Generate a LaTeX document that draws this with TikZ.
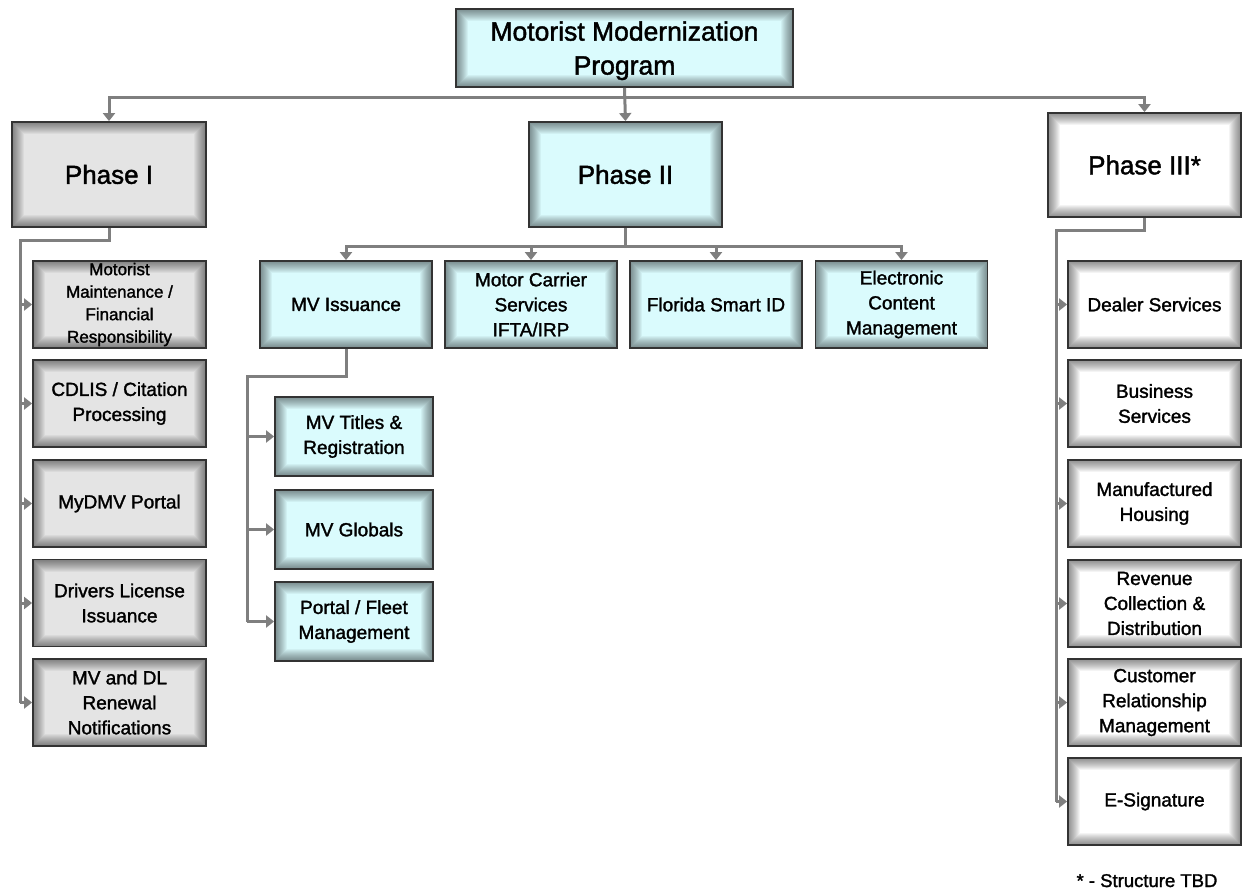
\documentclass[tikz,border=0pt]{standalone}
\usepackage{fontspec}
\setmainfont{Liberation Sans}[RawFeature={embolden=1.6}]
\usetikzlibrary{arrows.meta}
\definecolor{cyanfill}{HTML}{DAFBFD}
\definecolor{grayfill}{HTML}{E4E4E4}
\definecolor{linegray}{HTML}{7F7F7F}
\definecolor{edge}{HTML}{333333}
\begin{document}
\begin{tikzpicture}[x=1pt,y=-1pt,
  glow/.style={path picture={
    \foreach \w in {2,4,...,24}{
      \draw[black,opacity=0.042,line width=\w pt]
        (path picture bounding box.south west) rectangle (path picture bounding box.north east);}}},
  box/.style={rectangle, draw=edge, line width=1.8pt, align=center, inner sep=0pt, glow},
  cbox/.style={box, fill=cyanfill},
  gbox/.style={box, fill=grayfill},
  wbox/.style={box, fill=white},
  sub/.style={font=\fontsize{19}{25}\selectfont},
  phase/.style={font=\fontsize{26}{32}\selectfont},
  conn/.style={draw=linegray, line width=3pt},
  arr/.style={conn, -{Triangle[width=12pt,length=8pt]}},
]
\useasboundingbox (0,0) rectangle (1243,895);

% top
\node[cbox, minimum width=337pt, minimum height=78pt, font=\fontsize{26.5}{34}\selectfont, text depth=0pt] (title) at (624.5,48) {Motorist Modernization\\Program};

\node[gbox, phase, minimum width=194pt, minimum height=105pt] (p1) at (109,174.5) {Phase I};
\node[cbox, phase, minimum width=193pt, minimum height=105pt] (p2) at (625.5,174.5) {Phase II};
\node[wbox, phase, minimum width=193pt, minimum height=104pt] (p3) at (1144.5,165) {Phase III*};

% phase I children
\begin{scope}[every node/.style={gbox, sub, minimum width=173pt, minimum height=87pt}]
\node[font=\fontsize{17}{22.5}\selectfont] (a1) at (119.5,304.5) {Motorist\\Maintenance /\\Financial\\Responsibility};
\node (a2) at (119.5,403.5) {CDLIS / Citation\\Processing};
\node (a3) at (119.5,503.5) {MyDMV Portal};
\node (a4) at (119.5,603) {Drivers License\\Issuance};
\node (a5) at (119.5,702.5) {MV and DL\\Renewal\\Notifications};
\end{scope}

% phase II children
\begin{scope}[every node/.style={cbox, sub, minimum width=172pt, minimum height=87pt}]
\node (b1) at (346,304.5) {MV Issuance};
\node (b2) at (531,304.5) {Motor Carrier\\Services\\IFTA/IRP};
\node (b3) at (716,304.5) {Florida Smart ID};
\node (b4) at (901.5,304.5) {Electronic\\Content\\Management};
\end{scope}

% MV issuance children
\begin{scope}[every node/.style={cbox, sub, minimum width=158pt, minimum height=79pt}]
\node (c1) at (354,436.5) {MV Titles \&\\Registration};
\node (c2) at (354,529.5) {MV Globals};
\node (c3) at (354,621.5) {Portal / Fleet\\Management};
\end{scope}

% phase III children
\begin{scope}[every node/.style={wbox, sub, minimum width=173pt, minimum height=87pt}]
\node (d1) at (1154.5,304.5) {Dealer Services};
\node (d2) at (1154.5,403.5) {Business\\Services};
\node (d3) at (1154.5,503.5) {Manufactured\\Housing};
\node (d4) at (1154.5,603.5) {Revenue\\Collection \&\\Distribution};
\node (d5) at (1154.5,702.5) {Customer\\Relationship\\Management};
\node (d6) at (1154.5,801.5) {E-Signature};
\end{scope}

\node[font=\fontsize{18.5}{23}\selectfont, anchor=base] (note) at (1147,887) {* - Structure TBD};

% connectors
\coordinate (bus) at (0,97);
\draw[arr] (title.south) -- (p2.north);
\draw[arr] (title.south |- bus) -| (p1.north);
\draw[arr] (title.south |- bus) -| (p3.north);

\coordinate (ar) at (20,240);
\draw[conn] (p1.south) |- (ar) -- (ar |- a5.west);
\foreach \n in {a1,a2,a3,a4,a5} \draw[arr] (ar |- \n.west) -- (\n.west);

\coordinate (br) at (0,246);
\draw[conn] (p2.south) -- (p2.south |- br);
\foreach \n in {b1,b2,b3,b4} \draw[arr] (p2.south |- br) -| (\n.north);

\coordinate (cr) at (247,376);
\draw[conn] (b1.south) |- (cr) -- (cr |- c3.west);
\foreach \n in {c1,c2,c3} \draw[arr] (cr |- \n.west) -- (\n.west);

\coordinate (dr) at (1056,230);
\draw[conn] (p3.south) |- (dr) -- (dr |- d6.west);
\foreach \n in {d1,d2,d3,d4,d5,d6} \draw[arr] (dr |- \n.west) -- (\n.west);
\end{tikzpicture}
\end{document}
